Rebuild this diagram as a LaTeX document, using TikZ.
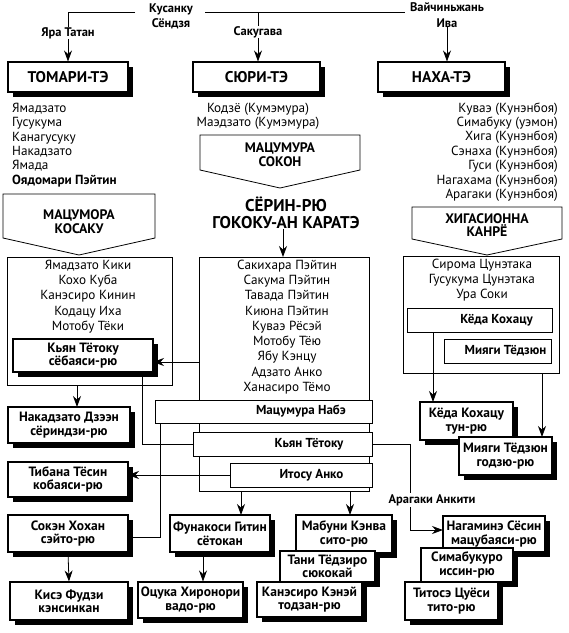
\documentclass[tikz,border=0pt]{standalone}
\usepackage{fontspec}
\setmainfont{PT Sans}
\usetikzlibrary{arrows.meta,shadows}
\begin{document}
\begin{tikzpicture}[x=1pt,y=-1pt,
  every node/.style={inner sep=0pt},
  ln/.style={line width=0.8pt},
  arr/.style={line width=0.8pt,-{Stealth[length=11pt,width=8pt]}},
  bbox/.style={draw,line width=1.1pt,fill=white,align=center,
    font=\bfseries\fontsize{13.5}{13.5}\selectfont,
    drop shadow={opacity=1,fill=black,shadow xshift=4.5pt,shadow yshift=-4.5pt}},
  topbox/.style={bbox,font=\bfseries\fontsize{15.5}{18}\selectfont},
  frame/.style={draw,line width=0.8pt,fill=white},
  ibox/.style={draw,line width=0.8pt,fill=white},
  ibtext/.style={font=\bfseries\fontsize{13}{13.5}\selectfont},
  lst/.style={font=\fontsize{13.2}{14.4}\selectfont},
  flst/.style={font=\fontsize{13.2}{15.2}\selectfont,align=center},
  pent/.style={font=\bfseries\fontsize{13.8}{13.5}\selectfont,align=center},
  lab/.style={font=\bfseries\fontsize{12.5}{15.5}\selectfont,align=center},
  arlab/.style={lab,fill=white,inner sep=1.5pt}
]
\fill[white] (0,0) rectangle (569,633);
\useasboundingbox (0,0) rectangle (569,633);

% ---------- top labels ----------
\node[lab] (kusanku) at (171,16.5) {Кусанку\\Сёндзя};
\node[lab] (vai) at (447,15) {Вайчиньжань\\Ива};
\node[lab] (yara) at (68,33) {Яра Татан};
\node[lab] (saku) at (258,32) {Сакугава};

% ---------- top boxes ----------
\node[topbox,minimum width=120,minimum height=30] (tomari) at (68,77) {ТОМАРИ-ТЭ};
\node[topbox,minimum width=127,minimum height=30] (syuri) at (256.5,77) {СЮРИ-ТЭ};
\node[topbox,minimum width=127,minimum height=30] (naha) at (441.5,77) {НАХА-ТЭ};

\coordinate (tl) at (68,12.5);
\coordinate (k1) at (135,12.5);
\coordinate (k2) at (205,12.5);
\coordinate (v1) at (405,12.5);
\coordinate (sj) at (258,12.5);
\draw[ln] (k1) -- (tl) -- (yara.north);
\draw[arr] (yara.south) -- (tomari.north);
\draw[ln] (k2) -- (v1);
\draw[ln] (sj) -- (saku.north);
\draw[arr] (saku.south) -- (saku.south |- syuri.north);
\draw[arr] (vai.south) -- (vai.south |- naha.north);

% ---------- lists ----------
\node[lst,align=left,anchor=west] (tlist) at (12,145) {Ямадзато\\Гусукума\\Канагусуку\\Накадзато\\Ямада\\\textbf{Оядомари Пэйтин}};
\node[lst,align=center] (slist) at (258,116.5) {Кодзё (Кумэмура)\\Маэдзато (Кумэмура)};
\node[lst,align=right,anchor=east] (nlist) at (558,152) {Куваэ (Кунэнбоя)\\Симабуку (уэмон)\\Хига (Кунэнбоя)\\Сэнаха (Кунэнбоя)\\Гуси (Кунэнбоя)\\Нагахама (Кунэнбоя)\\Арагаки (Кунэнбоя)};

% ---------- pentagons ----------
\draw[frame] (200,135) -- (360,135) -- (360,170) -- (280,188) -- (200,170) -- cycle;
\node[pent] (sokon) at (280,154.5) {МАЦУМУРА\\СОКОН};
\draw[frame] (3,194) -- (155,194) -- (155,238) -- (79,255) -- (3,238) -- cycle;
\node[pent] (kosaku) at (79,221.5) {МАЦУМОРА\\КОСАКУ};
\draw[frame] (412,207) -- (562,207) -- (562,239) -- (487,255) -- (412,239) -- cycle;
\node[pent] (higa) at (487,225) {ХИГАСИОННА\\КАНРЁ};

\node[font=\bfseries\fontsize{17}{17}\selectfont,align=center] (sorin) at (286,212.5) {СЁРИН-РЮ\\ГОКОКУ-АН КАРАТЭ};

% ---------- frames ----------
\node[frame,minimum width=165,minimum height=128] (lbox) at (89.5,321) {};
\node[frame,minimum width=170,minimum height=234] (cbox) at (284,374) {};
\node[frame,minimum width=156,minimum height=117] (rbox) at (481,314.5) {};

\node[flst] (llist) at (88,296.5) {Ямадзато Кики\\Кохо Куба\\Канэсиро Кинин\\Кодацу Иха\\Мотобу Тёки};
\node[flst,font=\fontsize{13.2}{15.25}\selectfont] (clist) at (287,327) {Сакихара Пэйтин\\Сакума Пэйтин\\Тавада Пэйтин\\Киюна Пэйтин\\Куваэ Рёсэй\\Мотобу Тёю\\Ябу Кэнцу\\Адзато Анко\\Ханасиро Тёмо};
\node[flst] (rlist) at (482,280) {Сирома Цунэтака\\Гусукума Цунэтака\\Ура Соки};

\draw[arr] (sorin.south -| 283,0) -- (283,257);

% ---------- connectors ----------
\coordinate (cl) at (199,362);
\coordinate (kk) at (142,376);
\coordinate (nb) at (160,423);
\coordinate (f0) at (241,491);
\coordinate (m0) at (350,491);
\coordinate (l0) at (77,385);
\coordinate (a1) at (410,444);
\coordinate (a2) at (410,530);
\coordinate (ky0) at (433,332);
\coordinate (mi0) at (542,373);

% ---------- inner boxes ----------
\node[ibox,minimum width=217,minimum height=23] (nabe) at (263.5,411.5) {};
\node[ibtext] (nabet) at (301,411.5) {Мацумура Набэ};
\node[ibox,minimum width=179,minimum height=24] (kyan) at (282.5,444) {};
\node[ibtext] (kyant) at (309,444) {Кьян Тётоку};
\node[ibox,minimum width=142,minimum height=24] (itosu) at (301,475) {};
\node[ibtext] (itosut) at (311.5,475) {Итосу Анко};

\node[ibox,minimum width=145,minimum height=24] (kyoda) at (479.5,320) {};
\node[ibtext] (kyodat0) at (496.5,320) {Кёда Кохацу};
\node[ibox,minimum width=107,minimum height=24] (miyagi) at (497.5,351) {};
\node[ibtext] (miyagit0) at (505.5,351) {Мияги Тёдзюн};

\draw[arr] (cl) -- (cl -| 153,0);
\draw[ln] (kyan.west) -| (kk);
\draw[arr] (nb) |- (68,537) -- (128,537);
\draw[arr] (itosu.west) -- (128,475);
\draw[arr] (l0) -- (77,407);
\draw[arr] (f0) -- (241,515);
\draw[arr] (m0) -- (350,515);
\draw[arr] (ky0) -- (433,402);
\draw[arr] (mi0) -- (542,437);
\draw[arr] (kyan.east) -- (a1) -- (a2) -- (443,530);
\node[arlab] (arak) at (432,500) {Арагаки Анкити};

% ---------- bold boxes ----------
\node[bbox,minimum width=140,minimum height=33] (kyansb) at (83,355.5) {Кьян Тётоку\\сёбаяси-рю};
\node[bbox,minimum width=122,minimum height=36] (nakadzato) at (69,425) {Накадзато Дзээн\\сёриндзи-рю};
\node[bbox,minimum width=120,minimum height=35] (tibana) at (68,479.5) {Тибана Тёсин\\кобаяси-рю};
\node[bbox,minimum width=120,minimum height=37] (sokan) at (68,533.5) {Сокэн Хохан\\сэйто-рю};
\node[bbox,minimum width=118,minimum height=38] (kise) at (69,601) {Кисэ Фудзи\\кэнсинкан};
\draw[arr] (sokan.south) -- (kise.north);

\node[bbox,minimum width=100,minimum height=37] (funakosi) at (220,533.5) {Фунакоси Гитин\\сётокан};
\node[bbox,minimum width=105,minimum height=36] (otsuka) at (190.5,600) {Оцука Хиронори\\вадо-рю};
\coordinate (f1) at (203,552);
\draw[arr] (f1) -- (f1 |- otsuka.north);

\node[bbox,minimum width=96,minimum height=38] (mabuni) at (344,534) {Мабуни Кэнва\\сито-рю};
\node[bbox,minimum width=95,minimum height=31] (tani) at (327.5,566.5) {Тани Тёдзиро\\сюкокай};
\node[bbox,minimum width=105,minimum height=35] (kanesiro) at (309.5,599.5) {Канэсиро Кэнэй\\тодзан-рю};

\node[bbox,minimum width=93,minimum height=38] (kyodab) at (466.5,421) {Кёда Кохацу\\тун-рю};
\node[bbox,minimum width=93,minimum height=38] (miyagib) at (505.5,456) {Мияги Тёдзюн\\годзю-рю};

\node[bbox,minimum width=102,minimum height=36] (nagamine) at (494,534) {Нагаминэ Сёсин\\мацубаяси-рю};
\node[bbox,minimum width=92,minimum height=34] (simabukuro) at (467,565) {Симабукуро\\иссин-рю};
\node[bbox,minimum width=93,minimum height=38] (titose) at (451.5,601) {Титосэ Цуёси\\тито-рю};
\end{tikzpicture}
\end{document}
